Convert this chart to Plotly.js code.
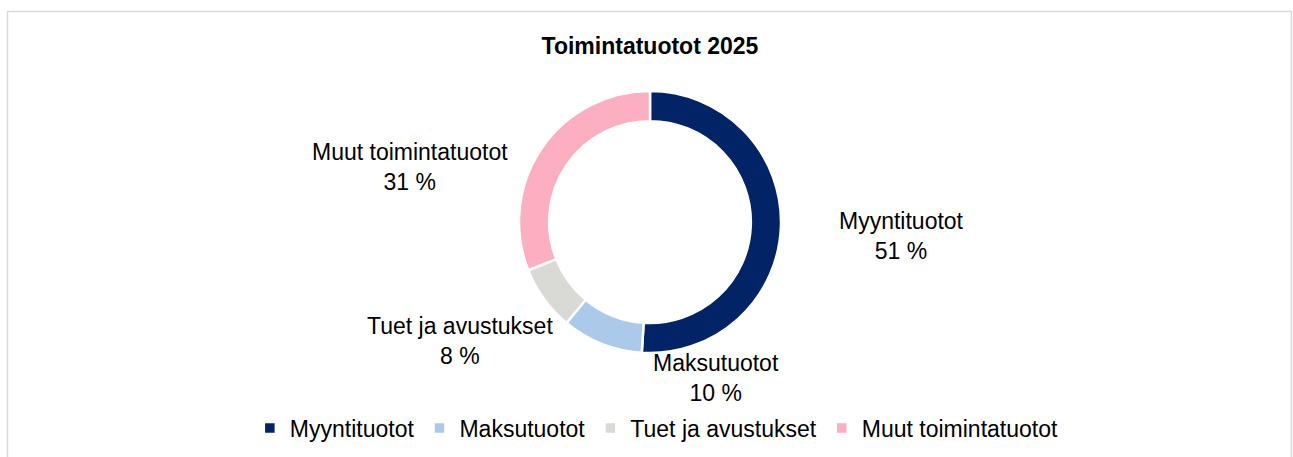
<!DOCTYPE html>
<html>
<head>
<meta charset="utf-8">
<script src="https://cdn.plot.ly/plotly-3.0.1.min.js"></script>
<style>
html,body{margin:0;padding:0;background:#fff;}
#chart{width:1293px;height:457px;}
</style>
</head>
<body>
<div id="chart"></div>
<script>
const categories = ["Myyntituotot", "Maksutuotot", "Tuet ja avustukset", "Muut toimintatuotot"];
const values = [51, 10, 8, 31];
const colors = ["#022366", "#abcaea", "#d9dad5", "#fbafc1"];
// label anchor positions (paper coords) for the outside data labels
const labelX = [0.6976, 0.5537, 0.3558, 0.3171];
const labelY = [0.4836, 0.1729, 0.2538, 0.6346];

const W = 1293, H = 457;
const px = x => x / W, py = y => 1 - y / H;
const FONT = "Liberation Sans, Arial, sans-serif";
const FS = 23;

const trace = {
  type: "pie",
  labels: categories,
  values: values,
  sort: false,
  direction: "clockwise",
  rotation: 0,
  hole: 0.77,
  marker: {colors: colors, line: {color: "#ffffff", width: 2.5}},
  textinfo: "none",
  hoverinfo: "label+percent",
  domain: {x: [px(519), px(781)], y: [py(353), py(91)]}
};

const annotations = categories.map((c, i) => ({
  xref: "paper", yref: "paper",
  x: labelX[i], y: labelY[i],
  xanchor: "center", yanchor: "middle",
  text: c + "<br>" + values[i] + " %",
  showarrow: false,
  font: {family: FONT, size: FS, color: "#000"}
}));

const layout = {
  width: W, height: H,
  margin: {l: 0, r: 0, t: 0, b: 0},
  paper_bgcolor: "#fff",
  font: {family: FONT, color: "#000"},
  title: {
    text: "<b>Toimintatuotot 2025</b>",
    font: {family: FONT, size: FS, color: "#000"},
    x: 0.5027, xanchor: "center", y: py(46), yanchor: "middle"
  },
  showlegend: true,
  legend: {
    orientation: "h", x: 0.508, xanchor: "center", y: py(428), yanchor: "middle",
    font: {family: FONT, size: FS, color: "#000"},
    itemwidth: 30, tracegroupgap: 0
  },
  annotations: annotations,
  shapes: [{
    type: "rect", xref: "paper", yref: "paper",
    x0: px(7.5), x1: px(1291.5), y0: -0.1, y1: py(11.5),
    line: {color: "#d9d9d9", width: 1.5}, fillcolor: "rgba(0,0,0,0)", layer: "below"
  }]
};

Plotly.newPlot("chart", [trace], layout, {displayModeBar: false, staticPlot: true});
</script>
</body>
</html>
